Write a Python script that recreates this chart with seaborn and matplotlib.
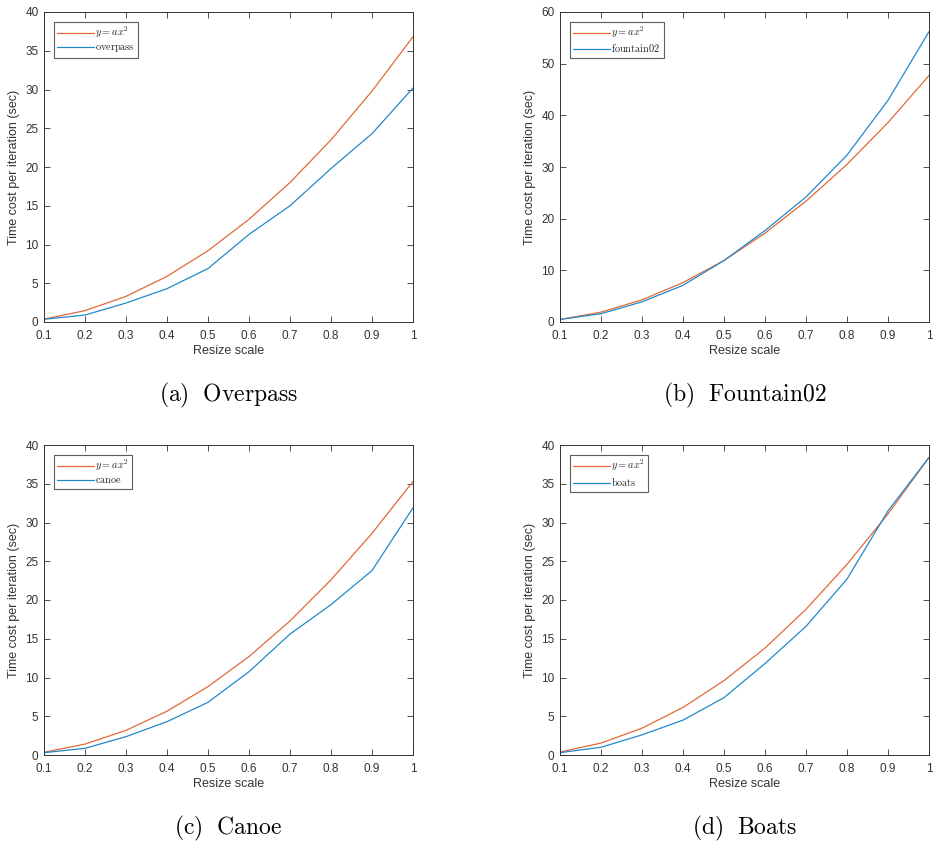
import numpy as np
import pandas as pd
import matplotlib
matplotlib.use("Agg")
import matplotlib.pyplot as plt
import seaborn as sns

sns.set_theme(style="ticks")
plt.rcParams['font.family'] = ['Liberation Sans', 'DejaVu Sans']
plt.rcParams['mathtext.fontset'] = 'cm'

scale = [0.1, 0.2, 0.3, 0.4, 0.5, 0.6, 0.7, 0.8, 0.9, 1.0]

fit_overpass = [0.37, 1.47, 3.31, 5.89, 9.2, 13.25, 18.0, 23.5, 29.8, 36.8]
overpass = [0.35, 0.9, 2.45, 4.3, 6.9, 11.3, 15.0, 19.8, 24.3, 30.2]

fit_fountain = [0.48, 1.91, 4.29, 7.63, 11.9, 17.2, 23.4, 30.5, 38.6, 47.7]
fountain02 = [0.5, 1.6, 3.9, 7.1, 11.9, 17.7, 24.2, 32.3, 42.9, 56.2]

fit_canoe = [0.35, 1.41, 3.18, 5.65, 8.83, 12.7, 17.3, 22.6, 28.6, 35.3]
canoe = [0.3, 0.86, 2.37, 4.3, 6.8, 10.75, 15.6, 19.4, 23.8, 31.9]

fit_boats = [0.38, 1.54, 3.46, 6.14, 9.6, 13.8, 18.8, 24.6, 31.1, 38.4]
boats = [0.3, 1.0, 2.6, 4.5, 7.4, 11.8, 16.6, 22.7, 31.5, 38.4]

xtick_labels = ["0.1", "0.2", "0.3", "0.4", "0.5", "0.6", "0.7", "0.8", "0.9", "1"]

panels = [
    ("overpass", fit_overpass, overpass, 40, 5, "(a)\\ \\ Overpass"),
    ("fountain02", fit_fountain, fountain02, 60, 10, "(b)\\ \\ Fountain02"),
    ("canoe", fit_canoe, canoe, 40, 5, "(c)\\ \\ Canoe"),
    ("boats", fit_boats, boats, 40, 5, "(d)\\ \\ Boats"),
]

ORANGE = "#E06A38"
BLUE = "#2288CC"
AXC = "#333333"

W, H = 933, 843
fig = plt.figure(figsize=(W / 100, H / 100), dpi=100)

rects = [
    (44, 12), (560, 12), (44, 445), (560, 445)
]
aw, ah = 369, 310

for (name, fit, meas, ymax, ystep, cap), (lx, ty) in zip(panels, rects):
    ax = fig.add_axes([lx / W, 1 - (ty + ah) / H, aw / W, ah / H])
    fit_label = "$y = ax^2$"
    meas_label = "$\\mathrm{" + name + "}$"
    df = pd.DataFrame({
        "scale": scale * 2,
        "time": list(fit) + list(meas),
        "series": [fit_label] * len(scale) + [meas_label] * len(scale),
    })
    sns.lineplot(data=df, x="scale", y="time", hue="series",
                 palette=[ORANGE, BLUE], linewidth=0.9, ax=ax, legend=True)
    ax.set_xlim(0.1, 1.0)
    ax.set_ylim(0, ymax)
    ax.set_xticks(scale)
    ax.set_xticklabels(xtick_labels)
    ax.set_yticks(np.arange(0, ymax + 0.1, ystep))
    ax.tick_params(direction="in", length=4, width=0.6, colors=AXC,
                   labelsize=8.5, top=True, right=True)
    ax.tick_params(axis="x", pad=6)
    ax.tick_params(axis="y", pad=4)
    for s in ax.spines.values():
        s.set_visible(True)
        s.set_color(AXC)
        s.set_linewidth(0.7)
    ax.set_xlabel("Resize scale", fontsize=9, color=AXC, labelpad=2)
    ax.set_ylabel("Time cost per iteration (sec)", fontsize=9, color=AXC, labelpad=4)
    leg = ax.legend(loc="upper left", fontsize=7.4, frameon=True, fancybox=False,
                    edgecolor=AXC, borderpad=0.3, handlelength=3.6,
                    handletextpad=0.15, labelspacing=0.2, borderaxespad=0.95)
    leg.get_frame().set_linewidth(0.8)
    cx = (lx + aw / 2) / W
    cy = 1 - (ty + ah + 73) / H
    fig.text(cx, cy, "$\\mathrm{" + cap + "}$", ha="center", va="center",
             fontsize=17, color="black")

fig.savefig("out.png", dpi=100, facecolor="white")
